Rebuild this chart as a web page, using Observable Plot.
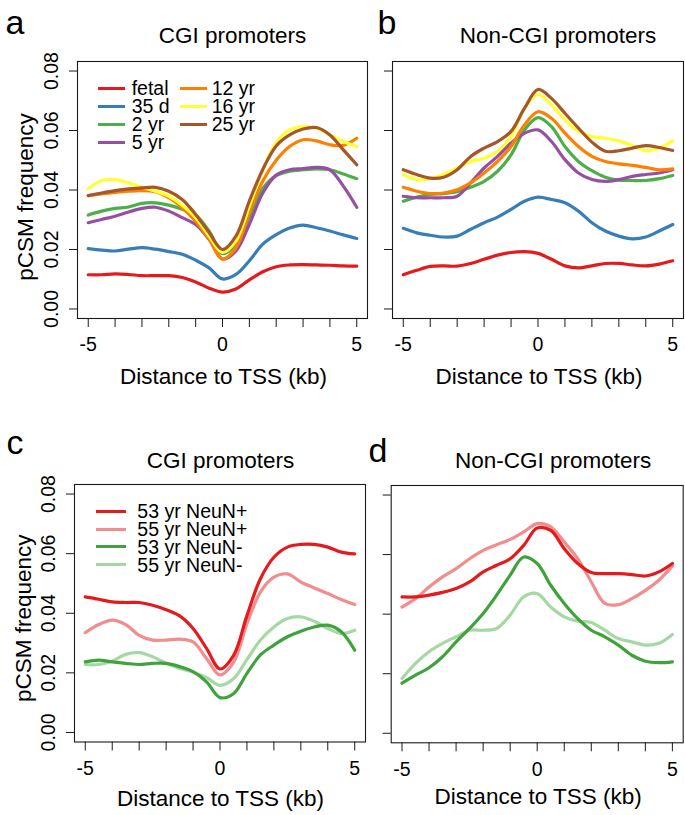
<!DOCTYPE html>
<html>
<head>
<meta charset="utf-8">
<script src="https://cdn.jsdelivr.net/npm/d3@7"></script>
<script src="https://cdn.jsdelivr.net/npm/@observablehq/plot@0.6"></script>
<style>
  html, body { margin: 0; padding: 0; background: #fff; }
  #fig { position: relative; width: 685px; height: 815px; overflow: hidden; font-family: "Liberation Sans", Arial, sans-serif; color: #000; }
  .panel { position: absolute; }
  .panel svg { overflow: visible; max-width: none; }
  .leg { position: absolute; display: flex; align-items: center; height: 18px; font-size: 19.5px; line-height: 18px; white-space: nowrap; }
  .leg .sw { display: inline-block; height: 3.2px; }
</style>
</head>
<body>
<div id="fig"></div>
<script>
// ---------- data ----------
const distance = [-5,-4.5,-4,-3.5,-3,-2.5,-2,-1.5,-1,-0.5,0,0.5,1,1.5,2,2.5,3,3.5,4,4.5,5];
const xTicks = [-5,-4,-3,-2,-1,0,1,2,3,4,5];
const xTickLabels = ["-5","","","","","0","","","","","5"];
const yTicks = [0, 0.02, 0.04, 0.06, 0.08];
const yTickLabels = ["0.00","0.02","0.04","0.06","0.08"];

const ageLabels = ["fetal","35 d","2 yr","5 yr","12 yr","16 yr","25 yr"];
const ageColors = ["#E41A1C","#377EB8","#4DAF4A","#984EA3","#FF7F00","#FFFF33","#A65628"];

// panel a: CGI promoters, by age
const cgiAge = [
  [0.0115,0.0115,0.0118,0.0116,0.0112,0.0112,0.0112,0.0106,0.0091,0.0070,0.0057,0.0067,0.0098,0.0125,0.0142,0.0148,0.0149,0.0148,0.0147,0.0145,0.0144],
  [0.0203,0.0198,0.0195,0.0201,0.0206,0.0201,0.0193,0.0184,0.0164,0.0138,0.0101,0.0116,0.0162,0.0218,0.0250,0.0272,0.0282,0.0273,0.0262,0.0249,0.0237],
  [0.0316,0.0329,0.0338,0.0343,0.0355,0.0357,0.0349,0.0335,0.0316,0.0262,0.0186,0.0218,0.0310,0.0405,0.0448,0.0463,0.0468,0.0471,0.0468,0.0454,0.0438],
  [0.0290,0.0301,0.0312,0.0326,0.0338,0.0342,0.0329,0.0307,0.0284,0.0234,0.0168,0.0195,0.0285,0.0390,0.0450,0.0468,0.0472,0.0476,0.0468,0.0413,0.0342],
  [0.0381,0.0387,0.0392,0.0396,0.0398,0.0394,0.0374,0.0340,0.0295,0.0236,0.0168,0.0206,0.0324,0.0430,0.0500,0.0546,0.0569,0.0565,0.0552,0.0550,0.0574],
  [0.0404,0.0432,0.0435,0.0424,0.0409,0.0396,0.0379,0.0349,0.0307,0.0245,0.0190,0.0229,0.0346,0.0468,0.0560,0.0602,0.0613,0.0608,0.0585,0.0563,0.0546],
  [0.0381,0.0390,0.0398,0.0404,0.0407,0.0409,0.0396,0.0368,0.0318,0.0257,0.0200,0.0245,0.0363,0.0469,0.0548,0.0585,0.0605,0.0610,0.0585,0.0535,0.0485]
];
// panel b: Non-CGI promoters, by age
const nonCgiAge = [
  [0.0115,0.0130,0.0143,0.0145,0.0144,0.0153,0.0167,0.0181,0.0190,0.0193,0.0187,0.0167,0.0145,0.0138,0.0145,0.0153,0.0153,0.0148,0.0145,0.0151,0.0162],
  [0.0271,0.0256,0.0248,0.0242,0.0245,0.0268,0.0290,0.0309,0.0335,0.0362,0.0376,0.0368,0.0357,0.0329,0.0290,0.0262,0.0245,0.0236,0.0242,0.0262,0.0284],
  [0.0362,0.0376,0.0385,0.0388,0.0394,0.0409,0.0429,0.0463,0.0518,0.0602,0.0643,0.0613,0.0546,0.0496,0.0465,0.0443,0.0433,0.0432,0.0432,0.0438,0.0449],
  [0.0379,0.0374,0.0374,0.0374,0.0379,0.0424,0.0474,0.0513,0.0558,0.0591,0.0602,0.0563,0.0502,0.0457,0.0435,0.0429,0.0435,0.0446,0.0452,0.0457,0.0468],
  [0.0409,0.0396,0.0388,0.0390,0.0401,0.0424,0.0457,0.0496,0.0546,0.0619,0.0663,0.0641,0.0591,0.0546,0.0513,0.0496,0.0488,0.0483,0.0476,0.0468,0.0471],
  [0.0452,0.0435,0.0438,0.0452,0.0474,0.0496,0.0507,0.0530,0.0580,0.0675,0.0721,0.0686,0.0636,0.0597,0.0580,0.0574,0.0565,0.0550,0.0532,0.0541,0.0565],
  [0.0468,0.0452,0.0440,0.0443,0.0468,0.0513,0.0541,0.0563,0.0597,0.0675,0.0738,0.0708,0.0658,0.0608,0.0561,0.0530,0.0532,0.0541,0.0549,0.0543,0.0533]
];

const neunLabels = ["53 yr NeuN+","55 yr NeuN+","53 yr NeuN-","55 yr NeuN-"];
const neunColors = ["#E41A1C","#F28C8D","#3FA23C","#A6D8A4"];

// panel c: CGI promoters, NeuN sorted
const cgiNeun = [
  [0.0455,0.0447,0.0438,0.0436,0.0436,0.0427,0.0412,0.0391,0.0349,0.0282,0.0213,0.0258,0.0392,0.0516,0.0588,0.0622,0.0631,0.0631,0.0622,0.0605,0.0599],
  [0.0335,0.0362,0.0377,0.0362,0.0326,0.0310,0.0310,0.0313,0.0304,0.0248,0.0193,0.0235,0.0365,0.0471,0.0521,0.0532,0.0505,0.0485,0.0466,0.0446,0.0429],
  [0.0237,0.0243,0.0237,0.0232,0.0228,0.0232,0.0232,0.0221,0.0204,0.0170,0.0117,0.0130,0.0198,0.0260,0.0293,0.0321,0.0340,0.0354,0.0360,0.0338,0.0276],
  [0.0228,0.0228,0.0240,0.0262,0.0268,0.0254,0.0232,0.0215,0.0202,0.0184,0.0158,0.0180,0.0245,0.0310,0.0354,0.0382,0.0388,0.0373,0.0349,0.0332,0.0343]
];
// panel d: Non-CGI promoters, NeuN sorted
const nonCgiNeun = [
  [0.0458,0.0458,0.0464,0.0473,0.0486,0.0508,0.0542,0.0564,0.0586,0.0631,0.0689,0.0681,0.0620,0.0570,0.0540,0.0536,0.0536,0.0533,0.0528,0.0542,0.0570],
  [0.0424,0.0452,0.0491,0.0525,0.0553,0.0586,0.0614,0.0633,0.0651,0.0676,0.0704,0.0693,0.0642,0.0586,0.0508,0.0436,0.0432,0.0452,0.0480,0.0514,0.0562],
  [0.0168,0.0195,0.0220,0.0257,0.0307,0.0352,0.0402,0.0464,0.0531,0.0592,0.0570,0.0497,0.0436,0.0385,0.0346,0.0324,0.0296,0.0262,0.0242,0.0237,0.0240],
  [0.0184,0.0235,0.0274,0.0302,0.0324,0.0346,0.0346,0.0352,0.0397,0.0458,0.0469,0.0424,0.0391,0.0376,0.0372,0.0346,0.0318,0.0307,0.0296,0.0302,0.0332]
];

// ---------- drawing ----------
const FONT = "'Liberation Sans', Arial, sans-serif";
const fig = document.getElementById("fig");

function panel(cfg) {
  const rows = [];
  cfg.order.forEach(s => distance.forEach((x, i) => rows.push({x, y: cfg.values[s][i], series: cfg.labels[s]})));
  const marks = [
    Plot.line(rows, {x: "x", y: "y", z: "series", stroke: "series", strokeWidth: 3.2, curve: "catmull-rom"}),
    Plot.frame({stroke: "#1a1a1a", strokeWidth: 1.1}),
    Plot.axisX({ticks: xTicks, tickSize: 9, tickPadding: 10, fontSize: 19.5,
      tickFormat: d => xTickLabels[xTicks.indexOf(d)], label: null, stroke: "#1a1a1a"}),
    Plot.axisY({ticks: yTicks, tickSize: 8, tickRotate: -90, tickPadding: 12, fontSize: 19.5,
      tickFormat: d => cfg.showY ? yTickLabels[yTicks.indexOf(d)] : "", label: null, stroke: "#1a1a1a"}),
    Plot.text([cfg.title], {text: d => d, frameAnchor: "top", dx: cfg.titleDx, dy: cfg.titleDy, lineAnchor: "bottom", fontSize: 22.5}),
    Plot.text([cfg.letter], {text: d => d, frameAnchor: "top-left", dx: cfg.letterDx, dy: cfg.letterDy, textAnchor: "start", lineAnchor: "bottom", fontSize: 34}),
    Plot.text(["Distance to TSS (kb)"], {text: d => d, frameAnchor: "bottom", dx: cfg.xlabDx, dy: cfg.xlabDy, lineAnchor: "bottom", fontSize: 22.5})
  ];
  if (cfg.showY) marks.push(Plot.text(["pCSM frequency"], {text: d => d, frameAnchor: "left", rotate: -90, dx: cfg.ylabDx, dy: cfg.ylabDy, textAnchor: "middle", lineAnchor: "bottom", fontSize: 22.5}));
  const svg = Plot.plot({
    width: cfg.width, height: cfg.height,
    marginLeft: cfg.ml, marginRight: cfg.mr, marginTop: cfg.mt, marginBottom: cfg.mb,
    style: {fontFamily: FONT, fontSize: "19.5px", color: "#000", background: "transparent", overflow: "visible"},
    x: {domain: [-5.4, 5.4]},
    y: {domain: [-0.0032, 0.0832]},
    color: {domain: cfg.labels, range: cfg.colors},
    marks
  });
  const div = document.createElement("div");
  div.className = "panel";
  div.style.left = cfg.left + "px";
  div.style.top = cfg.top + "px";
  div.appendChild(svg);
  fig.appendChild(div);
}

function legend(items) {
  for (const it of items) {
    const d = document.createElement("div");
    d.className = "leg";
    d.style.left = it.x + "px";
    d.style.top = (it.cy - 9) + "px";
    const sw = document.createElement("span");
    sw.className = "sw";
    sw.style.width = it.w + "px";
    sw.style.background = it.color;
    sw.style.marginRight = it.gap + "px";
    d.appendChild(sw);
    d.appendChild(document.createTextNode(it.label));
    fig.appendChild(d);
  }
}

panel({left: 0, top: 0, width: 370, height: 400, ml: 77, mr: 3, mt: 61, mb: 82,
  values: cgiAge, labels: ageLabels, colors: ageColors, order: [0,1,2,3,4,5,6], showY: true,
  title: "CGI promoters", titleDx: 10, titleDy: -19, letter: "a", letterDx: -72, letterDy: -28,
  xlabDx: 1, xlabDy: 65, ylabDx: -45, ylabDy: 7});
panel({left: 370, top: 0, width: 315, height: 400, ml: 22, mr: 2, mt: 61, mb: 82,
  values: nonCgiAge, labels: ageLabels, colors: ageColors, order: [0,1,2,3,4,5,6], showY: false,
  title: "Non-CGI promoters", titleDx: 20, titleDy: -19, letter: "b", letterDx: -15, letterDy: -28,
  xlabDx: 1, xlabDy: 65});
panel({left: 0, top: 420, width: 370, height: 395, ml: 74, mr: 5, mt: 64, mb: 73.5,
  values: cgiNeun, labels: neunLabels, colors: neunColors, order: [1,3,0,2], showY: true,
  title: "CGI promoters", titleDx: 0.5, titleDy: -17, letter: "c", letterDx: -68, letterDy: -31,
  xlabDx: 0.5, xlabDy: 63.5, ylabDx: -44, ylabDy: 5});
panel({left: 370, top: 420, width: 315, height: 395, ml: 20.7, mr: 2.3, mt: 65, mb: 72.7,
  values: nonCgiNeun, labels: neunLabels, colors: neunColors, order: [1,3,0,2], showY: false,
  title: "Non-CGI promoters", titleDx: 16, titleDy: -18, letter: "d", letterDx: -22.7, letterDy: -23.3,
  xlabDx: 1, xlabDy: 61});

// legends (inside panels a and c)
legend(ageLabels.map((label, i) => ({
  label, color: ageColors[i],
  x: i < 4 ? 98.3 : 180, cy: 88.3 + 18 * (i < 4 ? i : i - 4), w: 26.7, gap: i < 4 ? 6.7 : 5
})));
legend(neunLabels.map((label, i) => ({
  label, color: neunColors[i], x: 96.3, cy: 511.3 + 17.8 * i, w: 30, gap: 11
})));
</script>
</body>
</html>
